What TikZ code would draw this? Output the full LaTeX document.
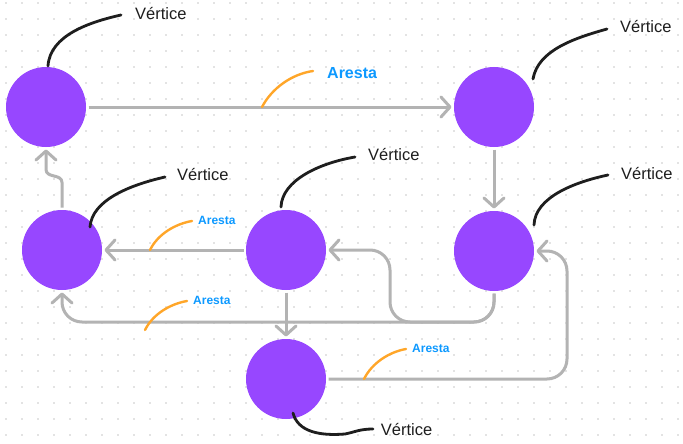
\documentclass[tikz,border=0pt]{standalone}
\usepackage{fontspec}
\setmainfont{Liberation Sans}
\usetikzlibrary{arrows.meta}
\definecolor{vpurple}{HTML}{9747FF}
\definecolor{eblue}{HTML}{0D99FF}
\definecolor{lorange}{HTML}{FFA629}
\definecolor{egray}{HTML}{B3B3B3}
\definecolor{lblack}{HTML}{1E1E1E}
\definecolor{dotc}{HTML}{E3E3E3}
\tikzset{
  vertex/.style={circle, fill=vpurple, minimum size=80pt, inner sep=0pt, outer sep=2.5pt},
  edge/.style={draw=egray, line width=3pt, rounded corners=20pt, -{Straight Barb[length=9pt,width=20pt,round]}},
  vleader/.style={draw=lblack, line width=2.8pt, line cap=round},
  eleader/.style={draw=lorange, line width=2.4pt, line cap=round},
  vlabel/.style={anchor=base west, inner sep=0pt, text=lblack, font=\fontsize{16.5}{18}\selectfont},
  elabelbig/.style={anchor=base west, inner sep=0pt, text=eblue, font=\fontsize{16}{18}\selectfont\bfseries},
  elabel/.style={anchor=base west, inner sep=0pt, text=eblue, font=\fontsize{12}{14}\selectfont\bfseries},
}
\begin{document}
\begin{tikzpicture}[x=1pt,y=-1pt]
\fill[white] (0,0) rectangle (683,444);
\useasboundingbox (0,0) rectangle (683,444);
% dot grid
\foreach \i in {0,...,42}{
  \foreach \j in {0,...,27}{
    \fill[dotc] (4.8+16*\i,1.6+16*\j) rectangle ++(2,2);
  }
}
% vertices
\node[vertex] (A) at (46,107) {};
\node[vertex] (B) at (494,107) {};
\node[vertex] (C) at (62,250) {};
\node[vertex] (D) at (286,250) {};
\node[vertex] (E) at (494,251) {};
\node[vertex] (F) at (286,379) {};
% bend coordinates
\coordinate (bl) at (62,322);
\coordinate (bm) at (390,322);
\coordinate (br) at (567,379);
% edges
\draw[edge] (A.east) -- (B.west);
\draw[edge] (B.south) -- (E.north);
\draw[edge, sharp corners] (C.north) -- ++(0,-25) .. controls +(0,-9) and +(0,9) .. ++(-16,-13) -- (A.south);
\draw[edge] (D.west) -- (C.east);
\draw[edge] (D.south) -- (F.north);
\draw[edge] (E.south) |- (bl) -- (C.south);
\draw[edge] (E.south) |- (bm) |- (D.east);
\draw[edge] (F.east) -- (br) |- (E.east);
% vertex labels and leaders
\node[vlabel] (tA) at (135,19.3) {Vértice};
\node[vlabel] (tB) at (620,33) {Vértice};
\node[vlabel] (tC) at (177,180.7) {Vértice};
\node[vlabel] (tD) at (368,160) {Vértice};
\node[vlabel] (tE) at (621,179.3) {Vértice};
\node[vlabel] (tF) at (380.7,435) {Vértice};
\coordinate (lA) at (121,15);
\coordinate (lB) at (607,29);
\coordinate (lC) at (165,177);
\coordinate (lD) at (355,157);
\coordinate (lE) at (608,175);
\coordinate (lF) at (373,429);
\draw[vleader] (48,66) .. controls (50,35) and (90,22) .. (lA);
\draw[vleader] (533,79) .. controls (538,50) and (575,38) .. (lB);
\draw[vleader] (90,227) .. controls (92,200) and (130,185) .. (lC);
\draw[vleader] (281,207) .. controls (282,180) and (320,163) .. (lD);
\draw[vleader] (534,225) .. controls (535,197) and (575,182) .. (lE);
\draw[vleader] (293,413) .. controls (298,432) and (320,436) .. (345,434) .. controls (355,432) and (360,429) .. (lF);
% edge labels and leaders
\node[elabelbig] (eAB) at (327,79) {Aresta};
\node[elabel] (eDC) at (198,224) {Aresta};
\node[elabel] (eEC) at (193,304) {Aresta};
\node[elabel] (eFE) at (412,352) {Aresta};
\coordinate (oAB) at (313,71);
\coordinate (oDC) at (192,221);
\coordinate (oEC) at (187,301);
\coordinate (oFE) at (406,349);
\draw[eleader] (262,107) .. controls (272,88) and (292,74) .. (oAB);
\draw[eleader] (150,250) .. controls (158,234) and (175,224) .. (oDC);
\draw[eleader] (145,330) .. controls (153,314) and (170,304) .. (oEC);
\draw[eleader] (364,379) .. controls (372,363) and (389,352) .. (oFE);
\end{tikzpicture}
\end{document}
